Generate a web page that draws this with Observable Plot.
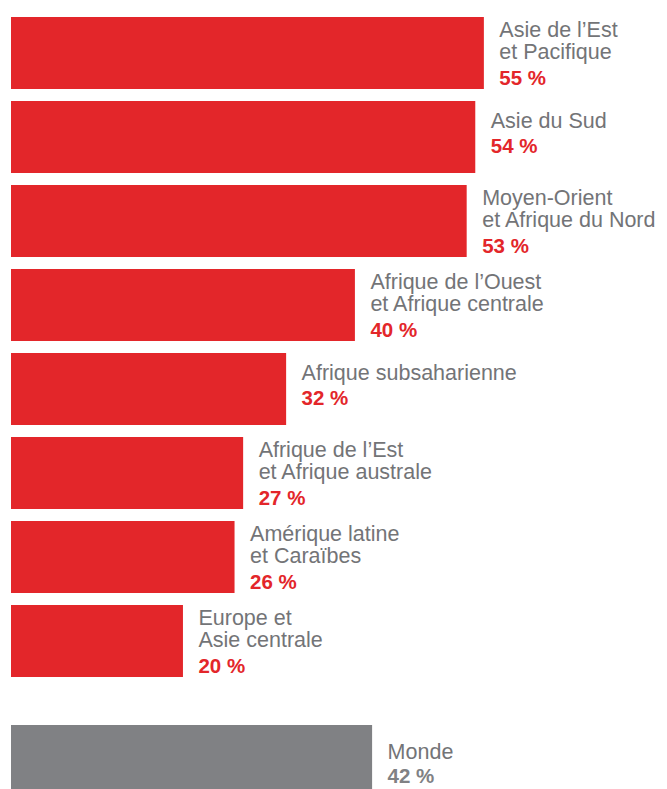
<!DOCTYPE html>
<html>
<head>
<meta charset="utf-8">
<script src="https://cdn.jsdelivr.net/npm/d3@7"></script>
<script src="https://cdn.jsdelivr.net/npm/@observablehq/plot@0.6"></script>
<style>
  html, body { margin: 0; padding: 0; background: #fff; }
  #chart svg { display: block; }
</style>
</head>
<body>
<div id="chart"></div>
<script>
// Data
const regions = [
  "Asie de l’Est\net Pacifique",
  "Asie du Sud",
  "Moyen-Orient\net Afrique du Nord",
  "Afrique de l’Ouest\net Afrique centrale",
  "Afrique subsaharienne",
  "Afrique de l’Est\net Afrique australe",
  "Amérique latine\net Caraïbes",
  "Europe et\nAsie centrale"
];
const regionValues = [55, 54, 53, 40, 32, 27, 26, 20];
const worldLabel = "Monde";
const worldValue = 42;

const RED = "#e3262a";
const GRAY = "#808184";
const TEXT_GRAY = "#737477";
const FONT = "Liberation Sans, Arial, Helvetica, sans-serif";

const regionRows = regions.map((name, i) => ({name, value: regionValues[i], lines: name.split("\n").length}));
const worldRows = [{name: worldLabel, value: worldValue, lines: 1}];
const pct = d => `${d.value} %`;

const twoLine = regionRows.filter(d => d.lines === 2);
const oneLine = regionRows.filter(d => d.lines === 1);

const nameOpts = {x: "value", y: "name", text: "name", textAnchor: "start", lineAnchor: "bottom",
  dx: 15, fontSize: 21.5, lineHeight: 1, fill: TEXT_GRAY, fontFamily: FONT};
const valOpts = {x: "value", y: "name", text: pct, textAnchor: "start", lineAnchor: "bottom",
  dx: 15, fontSize: 20.5, fontWeight: "bold", fill: RED, fontFamily: FONT};

const chart = Plot.plot({
  width: 667,
  height: 789,
  marginLeft: 11,
  marginRight: 0,
  marginTop: 11,
  marginBottom: 22,
  style: {fontFamily: FONT, background: "#fff", overflow: "visible"},
  x: {domain: [0, 76.3], axis: null},
  y: {domain: [...regions, worldLabel], padding: 0, axis: null},
  marks: [
    Plot.rectX(regionRows, {x: "value", y: "name", fill: RED, insetTop: 6, insetBottom: 6}),
    Plot.rectX(worldRows, {x: "value", y: "name", fill: GRAY, insetTop: 6, insetBottom: 6, dy: 36}),
    Plot.text(twoLine, {...nameOpts, dy: 5}),
    Plot.text(twoLine, {...valOpts, dy: 31}),
    Plot.text(oneLine, {...nameOpts, dy: -10}),
    Plot.text(oneLine, {...valOpts, dy: 15}),
    Plot.text(worldRows, {...nameOpts, dy: 33}),
    Plot.text(worldRows, {...valOpts, fill: GRAY, dy: 57})
  ]
});
document.getElementById("chart").appendChild(chart);
</script>
</body>
</html>
